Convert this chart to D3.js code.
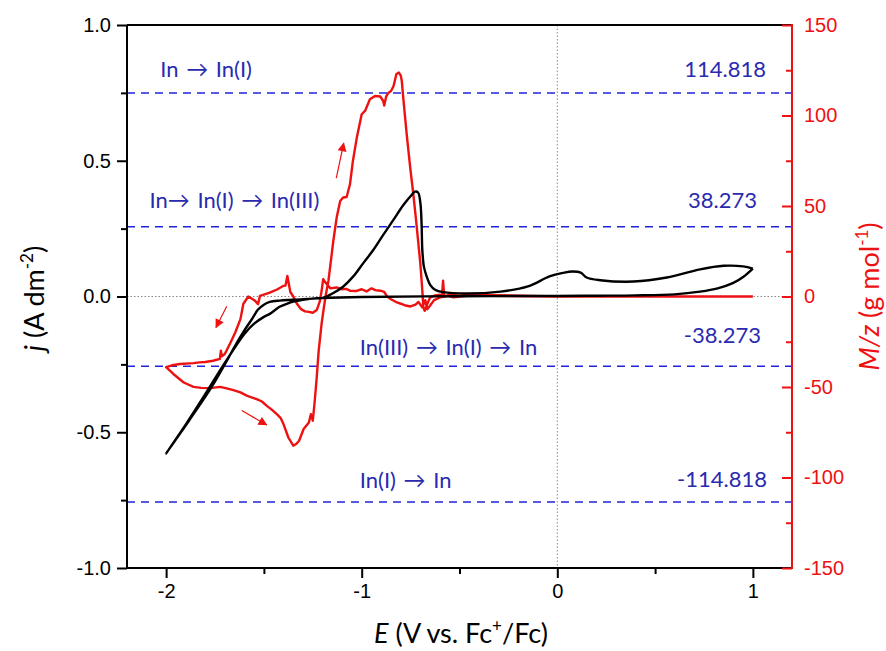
<!DOCTYPE html>
<html><head><meta charset="utf-8">
<script src="https://cdn.jsdelivr.net/npm/d3@7"></script>
<style>body{margin:0;background:#fff}svg{display:block}</style>
</head><body>
<svg id="c" width="886" height="651"></svg>
<script>
// ---- data ----
const xTicks = [-2, -1, 0, 1];
const xMinor = [-1.5, -0.5, 0.5];
const jTicks = [-1.0, -0.5, 0.0, 0.5, 1.0];
const jMinor = [-0.75, -0.25, 0.25, 0.75];
const mzTicks = [-150, -100, -50, 0, 50, 100, 150];
const mzMinor = [-125, -75, -25, 25, 75, 125];

// black: current density j (A dm^-2) vs E
const blackE = [1.0,0.95,0.9,0.82,0.73,0.6,0.4,0.2,0,-0.5,-1.0,-1.2,-1.35,-1.42,-1.47,-1.5,-1.53,-1.56,-1.6,-1.65,-1.7,-1.76,-1.8,-1.9,-2.0,
  -1.9,-1.8,-1.7,-1.6,-1.55,-1.5,-1.47,-1.42,-1.38,-1.35,-1.3,-1.23,-1.2,-1.145,-1.094,-1.043,-0.992,-0.94,-0.89,-0.838,-0.787,-0.745,-0.728,-0.712,-0.70,-0.694,-0.69,-0.682,-0.668,-0.65,-0.625,-0.584,-0.465,-0.29,-0.15,-0.04,0.03,0.077,0.12,0.15,0.22,0.39,0.56,0.73,0.85,0.95,1.0];
const blackJ = [0.103,0.072,0.05,0.03,0.018,0.008,0.004,0.003,0.002,0.001,-0.002,-0.006,-0.012,-0.015,-0.02,-0.03,-0.048,-0.082,-0.125,-0.185,-0.25,-0.325,-0.37,-0.475,-0.578,
  -0.472,-0.36,-0.245,-0.138,-0.1,-0.075,-0.064,-0.038,-0.026,-0.019,-0.012,-0.006,-0.005,0.013,0.037,0.074,0.123,0.172,0.227,0.282,0.337,0.374,0.386,0.383,0.344,0.27,0.17,0.11,0.074,0.043,0.025,0.016,0.011,0.018,0.037,0.074,0.087,0.092,0.088,0.07,0.06,0.055,0.07,0.1,0.113,0.111,0.103];

// red: M/z (g mol^-1) vs E
const redE = [1.0,0.5,0,-0.45,-0.5,-0.53,-0.56,-0.6,-0.63,-0.65,-0.665,-0.675,-0.69,-0.71,-0.725,-0.75,-0.775,-0.8,-0.82,-0.85,-0.87,-0.885,-0.905,-0.93,-0.95,-0.975,-1.0,-1.03,-1.06,-1.08,-1.1,-1.13,-1.16,-1.18,-1.197,-1.205,-1.215,-1.23,-1.25,-1.27,-1.29,-1.31,-1.33,-1.35,-1.365,-1.38,-1.39,-1.4,-1.43,-1.47,-1.52,-1.53,-1.545,-1.58,-1.605,-1.62,-1.647,-1.673,-1.7,-1.715,-1.72,-1.725,-1.76,-1.8,-1.83,-1.86,-1.93,-1.97,-2.0,
  -1.963,-1.91,-1.86,-1.82,-1.775,-1.724,-1.69,-1.656,-1.62,-1.588,-1.537,-1.51,-1.485,-1.46,-1.434,-1.415,-1.4,-1.375,-1.35,-1.335,-1.32,-1.297,-1.27,-1.26,-1.25,-1.24,-1.23,-1.22,-1.205,-1.196,-1.185,-1.17,-1.145,-1.128,-1.11,-1.095,-1.077,-1.06,-1.045,-1.025,-1.0,-0.983,-0.958,-0.932,-0.905,-0.89,-0.885,-0.875,-0.863,-0.85,-0.837,-0.823,-0.81,-0.8,-0.795,-0.786,-0.77,-0.752,-0.736,-0.72,-0.7,-0.69,-0.685,-0.678,-0.665,-0.65,-0.63,-0.6,-0.59,-0.584,-0.578,-0.55,-0.5,-0.46,0,1.0];
const redM = [0,0,0,0.5,0,-0.5,0.3,-0.5,-2,-5,-7,-2,-6,-3,-4.5,-5.5,-5,-4,-3.3,-1.5,0,2.5,3.2,3.5,4.5,2.8,4,3,3.2,4.2,4,5,4.5,7,9.6,3,-3,-7.5,-9,-8.5,-8.2,-7,-4.2,0,2.5,11.4,6,5.9,4,2.2,0.4,-4.2,-2.4,0,-4,-12.5,-20,-26,-31.8,-33,-30,-34.5,-35.5,-36.2,-36.4,-36.8,-37.3,-38,-39,
  -42.8,-47.5,-49.9,-50.5,-50.6,-49.9,-50.8,-51.7,-53,-54.8,-56.7,-58,-60.4,-62.5,-65,-67,-70.5,-77.9,-82.4,-81.5,-79.7,-73.2,-69.6,-65,-68.6,-57.6,-44.7,-30,-15,-8,0,8.7,30.8,43.6,52.8,54.7,55,62,74.9,87.8,100.7,102.5,109,110.8,110.5,108,105.5,110.5,112.6,113.5,116.3,122.8,123.7,122,119,108,89.7,71.2,56.5,40,17.9,3.1,-6,-7.9,-4.2,-0.5,0.4,1,0,8.7,0,1,0.5,1,0,0];

// reference lines (M/z) and their labels
const refMz = [112.5, 38.5, -38.5, -113.5];
const refValueLabels = ["114.818", "38.273", "-38.273", "-114.818"];
const refProcessLabels = ["In \u2192 In(I)", "In\u2192 In(I) \u2192 In(III)", "In(III) \u2192 In(I) \u2192 In", "In(I) \u2192 In"];
const refProcessE = [-2.03, -2.085, -1.01, -1.01];

// direction arrows [E0, j0, E1, j1]
const arrows = [[-1.69,-0.036,-1.745,-0.114],[-1.613,-0.42,-1.486,-0.473],[-1.13,0.436,-1.092,0.565]];

// ---- layout ----
const L = 127, R = 792, T = 25, B = 568;
const svg = d3.select("#c");
const x = d3.scaleLinear().domain([-2.2, 1.2]).range([L, R]);
const yJ = d3.scaleLinear().domain([-1, 1]).range([B, T]);
const yM = d3.scaleLinear().domain([-150, 150]).range([B, T]);
const blue = "#2a2ab0", dashBlue = "#2323d8", red = "#ee1111";
const tickFont = "'Liberation Sans', Arial, sans-serif";
const labFont = "Lato, 'Open Sans', sans-serif";
const hy = s => s.replace("\u2212", "-");

// zero dotted lines
svg.append("line").attr("x1", L).attr("x2", R).attr("y1", yJ(0)).attr("y2", yJ(0))
  .attr("stroke", "#888").attr("stroke-width", 1).attr("stroke-dasharray", "1.5,2");
svg.append("line").attr("x1", x(0)).attr("x2", x(0)).attr("y1", T).attr("y2", B)
  .attr("stroke", "#888").attr("stroke-width", 1).attr("stroke-dasharray", "1.5,2");

// dashed reference lines
svg.selectAll(".ref").data(refMz).enter().append("line")
  .attr("x1", L).attr("x2", R).attr("y1", d => yM(d)).attr("y2", d => yM(d))
  .attr("stroke", dashBlue).attr("stroke-width", 1.5).attr("stroke-dasharray", "8,6");

// curves
const blackData = blackE.map((e, i) => [e, blackJ[i]]);
const redData = redE.map((e, i) => [e, redM[i]]);
svg.append("path").datum(redData)
  .attr("d", d3.line().x(d => x(d[0])).y(d => yM(d[1])))
  .attr("fill", "none").attr("stroke", red).attr("stroke-width", 2.4).attr("stroke-linejoin", "round");
svg.append("path").datum(blackData)
  .attr("d", d3.line().curve(d3.curveCatmullRom.alpha(0.5)).x(d => x(d[0])).y(d => yJ(d[1])))
  .attr("fill", "none").attr("stroke", "#000").attr("stroke-width", 2.4).attr("stroke-linejoin", "round");

// arrows
const defs = svg.append("defs");
defs.append("marker").attr("id", "ah").attr("viewBox", "0 0 10 10").attr("refX", 9).attr("refY", 5)
  .attr("markerWidth", 11).attr("markerHeight", 9).attr("markerUnits", "userSpaceOnUse").attr("orient", "auto")
  .append("path").attr("d", "M0,0 L10,5 L0,10 z").attr("fill", red);
svg.selectAll(".arr").data(arrows).enter().append("line")
  .attr("x1", d => x(d[0])).attr("y1", d => yJ(d[1])).attr("x2", d => x(d[2])).attr("y2", d => yJ(d[3]))
  .attr("stroke", red).attr("stroke-width", 1.2).attr("marker-end", "url(#ah)");

// labels
svg.selectAll(".vl").data(refMz).enter().append("text")
  .attr("x", (d, i) => [766, 757, 761, 767][i]).attr("y", (d, i) => [77, 208, 343, 487][i])
  .attr("text-anchor", "end").attr("font-family", labFont).attr("font-size", 22).attr("fill", blue)
  .text((d, i) => refValueLabels[i]);
svg.selectAll(".pl").data(refMz).enter().append("text")
  .attr("x", (d, i) => x(refProcessE[i])).attr("y", (d, i) => [77, 208, 355, 488][i])
  .attr("font-family", labFont).attr("font-size", 22).attr("fill", blue)
  .attr("word-spacing", 2)
  .text((d, i) => refProcessLabels[i]);

// axes frame
svg.append("line").attr("x1", L).attr("x2", R).attr("y1", T).attr("y2", T).attr("stroke", "#000").attr("stroke-width", 2);
svg.append("line").attr("x1", L).attr("x2", R).attr("y1", B).attr("y2", B).attr("stroke", "#000").attr("stroke-width", 2);
svg.append("line").attr("x1", L).attr("x2", L).attr("y1", T).attr("y2", B).attr("stroke", "#000").attr("stroke-width", 2);
svg.append("line").attr("x1", R).attr("x2", R).attr("y1", T - 1).attr("y2", B + 1).attr("stroke", red).attr("stroke-width", 2);

// bottom axis
const gx = svg.append("g").attr("transform", `translate(0,${B})`)
  .call(d3.axisBottom(x).tickValues(xTicks).tickSize(10).tickPadding(6).tickFormat(d => hy(d3.format("d")(d))));
gx.select(".domain").remove();
gx.selectAll("line").attr("stroke", "#000").attr("stroke-width", 2);
gx.selectAll("text").attr("font-family", tickFont).attr("font-size", 20).attr("fill", "#000");
const gxm = svg.append("g").attr("transform", `translate(0,${B})`)
  .call(d3.axisBottom(x).tickValues(xMinor).tickSize(6).tickFormat(""));
gxm.select(".domain").remove();
gxm.selectAll("line").attr("stroke", "#000").attr("stroke-width", 2);

// left axis
const gy = svg.append("g").attr("transform", `translate(${L},0)`)
  .call(d3.axisLeft(yJ).tickValues(jTicks).tickSize(10).tickPadding(6).tickFormat(d => hy(d3.format(".1f")(d))));
gy.select(".domain").remove();
gy.selectAll("line").attr("stroke", "#000").attr("stroke-width", 2);
gy.selectAll("text").attr("font-family", tickFont).attr("font-size", 20).attr("fill", "#000");
const gym = svg.append("g").attr("transform", `translate(${L},0)`)
  .call(d3.axisLeft(yJ).tickValues(jMinor).tickSize(6).tickFormat(""));
gym.select(".domain").remove();
gym.selectAll("line").attr("stroke", "#000").attr("stroke-width", 2);

// right axis (ticks pointing inward)
const gr = svg.append("g").attr("transform", `translate(${R},0)`)
  .call(d3.axisRight(yM).tickValues(mzTicks).tickSize(-10).tickPadding(12).tickFormat(d => hy(d3.format("d")(d))));
gr.select(".domain").remove();
gr.selectAll("line").attr("stroke", red).attr("stroke-width", 2);
gr.selectAll("text").attr("font-family", tickFont).attr("font-size", 20).attr("fill", red).attr("x", 12);
const grm = svg.append("g").attr("transform", `translate(${R},0)`)
  .call(d3.axisRight(yM).tickValues(mzMinor).tickSize(-6).tickFormat(""));
grm.select(".domain").remove();
grm.selectAll("line").attr("stroke", red).attr("stroke-width", 2);

// axis titles
const tl = svg.append("text").attr("transform", `translate(44,${yJ(0) + 2}) rotate(-90)`)
  .attr("text-anchor", "middle").attr("font-family", labFont).attr("font-size", 27).attr("fill", "#000");
tl.append("tspan").attr("font-style", "italic").text("j");
tl.append("tspan").text(" (A dm");
tl.append("tspan").attr("dy", -11).attr("font-size", 17).text("-2");
tl.append("tspan").attr("dy", 11).text(")");

const tr = svg.append("text").attr("transform", `translate(879,${yM(0)}) rotate(-90)`)
  .attr("text-anchor", "middle").attr("font-family", labFont).attr("font-size", 27).attr("fill", red);
tr.append("tspan").attr("font-style", "italic").text("M/z");
tr.append("tspan").text(" (g mol");
tr.append("tspan").attr("dy", -11).attr("font-size", 17).text("-1");
tr.append("tspan").attr("dy", 11).text(")");

const tb = svg.append("text").attr("x", 461).attr("y", 643)
  .attr("text-anchor", "middle").attr("font-family", labFont).attr("font-size", 27).attr("fill", "#000");
tb.append("tspan").attr("font-style", "italic").text("E");
tb.append("tspan").text(" (V vs. Fc");
tb.append("tspan").attr("dy", -11).attr("font-size", 17).text("+");
tb.append("tspan").attr("dy", 11).text("/Fc)");
</script>
</body></html>
